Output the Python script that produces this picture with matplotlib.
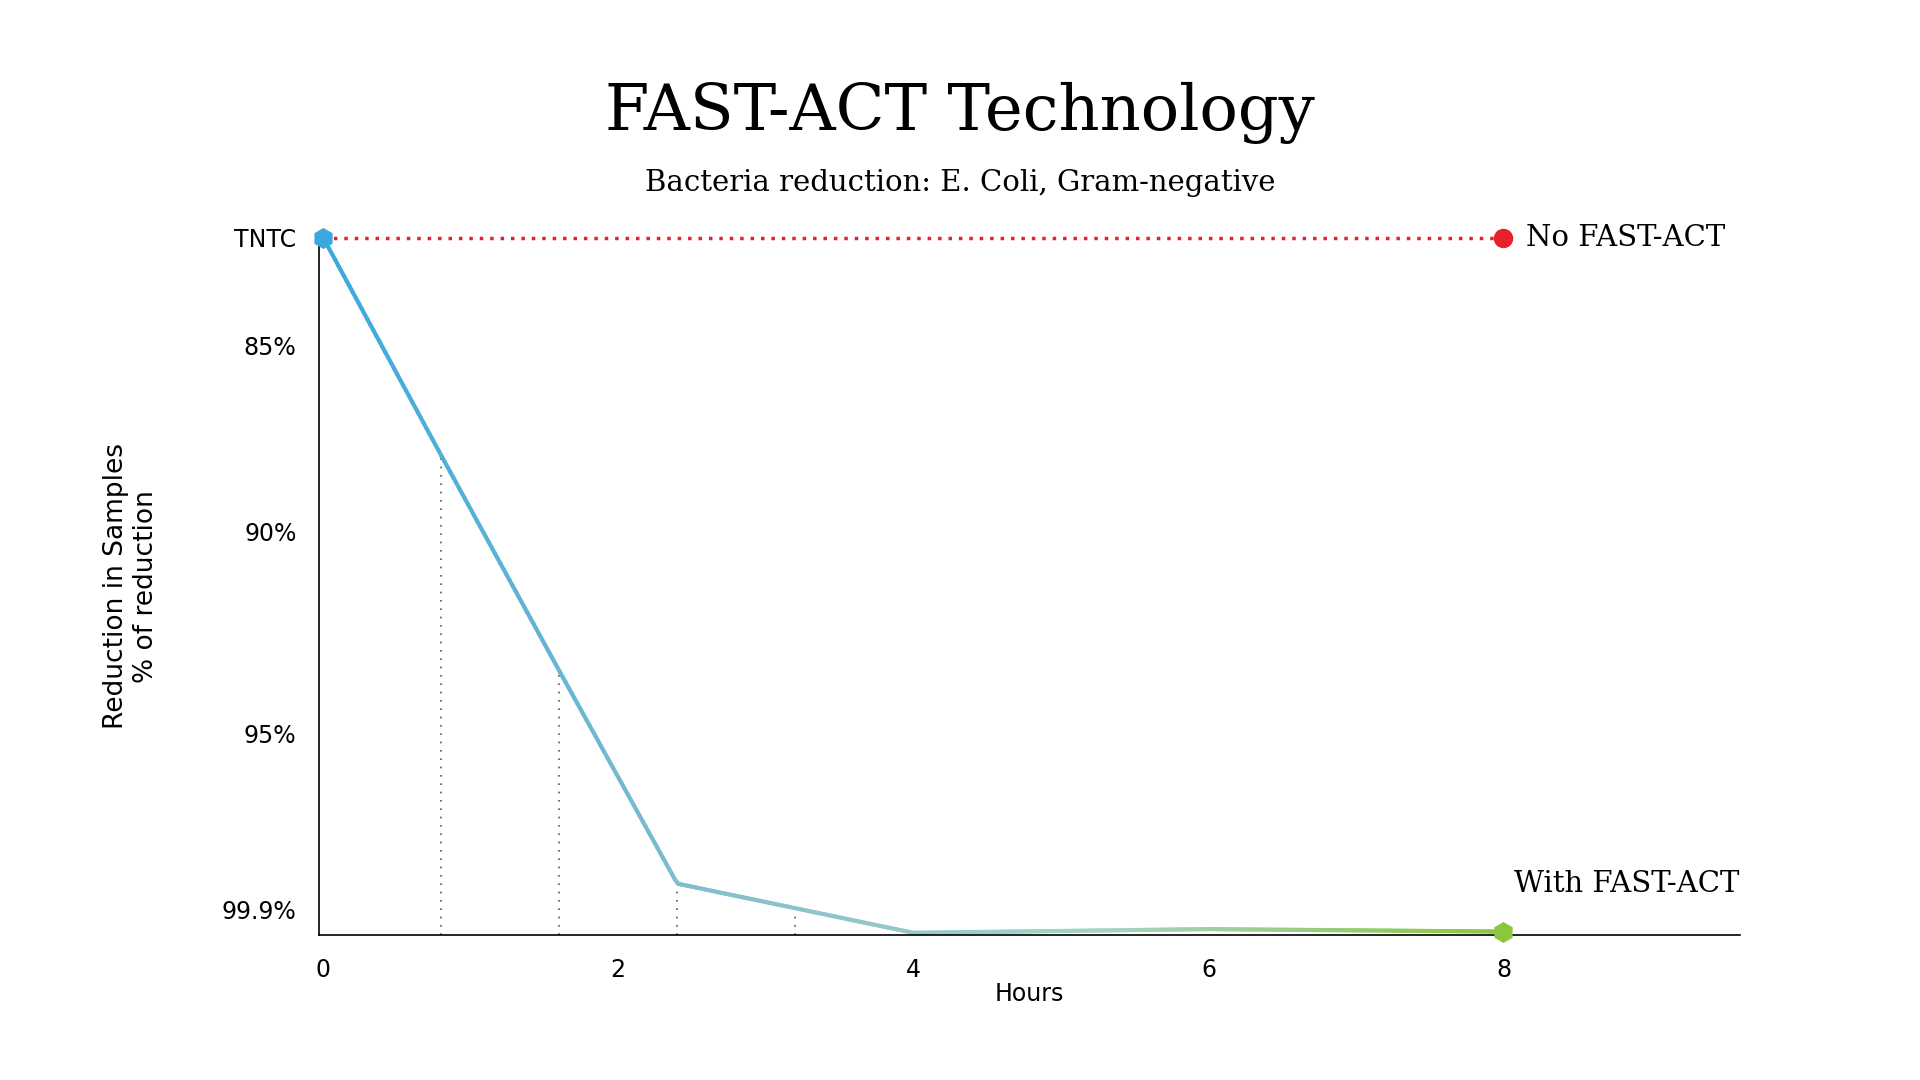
import matplotlib.pyplot as plt
import numpy as np
from matplotlib.collections import LineCollection
from matplotlib.colors import LinearSegmentedColormap

# data: hours vs position on the (non-linear) reduction scale
hours = [0, 0.8, 1.6, 2.4, 3.2, 4, 6, 8]
level = [567, 390, 215, 42, 22, 2, 5, 3]
drop_hours = [0.8, 1.6, 2.4, 3.2]
no_fast_hours = [0, 8]
no_fast_level = [567, 567]
tick_levels = [21, 164, 328, 479, 567]
tick_labels = ["99.9%", "95%", "90%", "85%", "TNTC"]
x_ticks = [0, 2, 4, 6, 8]

fig = plt.figure(figsize=(19.2, 10.8), dpi=100)
ax = fig.add_axes([0.166, 0.134, 0.74, 0.646])
ax.set_xlim(-0.03, 9.6)
ax.set_ylim(0, 567)

# no fast-act line
ax.plot(no_fast_hours, no_fast_level, color="#e8202a", lw=2.5, ls=(0, (1, 2)), clip_on=False)
ax.plot([8], [567], "o", color="#e8202a", ms=13, clip_on=False)

# dotted drops
for h in drop_hours:
    y = np.interp(h, hours, level)
    ax.plot([h, h], [0, y], color="#555555", lw=1.2, ls=(0, (1, 4)))

# gradient line
xs = np.linspace(0, 8, 400)
ys = np.interp(xs, hours, level)
pts = np.array([xs, ys]).T.reshape(-1, 1, 2)
segs = np.concatenate([pts[:-1], pts[1:]], axis=1)
cmap = LinearSegmentedColormap.from_list("g", ["#3aa8de", "#85bfcc", "#a6d3c6", "#8cc63f"])
lc = LineCollection(segs, cmap=cmap, lw=3, capstyle="round", clip_on=False)
lc.set_array(xs[:-1])
ax.add_collection(lc)
ax.plot([0], [level[0]], "h", color="#3aa8de", ms=14, clip_on=False, zorder=5)
ax.plot([8], [level[-1]], "h", color="#8cc63f", ms=14, clip_on=False, zorder=5)

for s in ["top", "right"]:
    ax.spines[s].set_visible(False)
ax.spines["left"].set_linewidth(1.2)
ax.spines["bottom"].set_linewidth(1.2)
ax.set_yticks(tick_levels)
ax.set_yticklabels(tick_labels)
ax.set_xticks(x_ticks)
ax.tick_params(length=0, labelsize=17, pad=16)
ax.set_xlabel("Hours", fontsize=17, labelpad=0)
ax.set_ylabel("Reduction in Samples\n% of reduction", fontsize=19, labelpad=45)

fig.text(0.5, 0.88, "FAST-ACT Technology", ha="center", fontsize=46, family="DejaVu Serif")
fig.text(0.5, 0.823, "Bacteria reduction: E. Coli, Gram-negative", ha="center", fontsize=21, family="DejaVu Serif")
ax.text(8.15, 567, "No FAST-ACT", va="center", fontsize=21, family="DejaVu Serif")
ax.text(9.6, 30, "With FAST-ACT", ha="right", va="bottom", fontsize=21, family="DejaVu Serif")

fig.savefig("out.png", dpi=100, facecolor="white")
